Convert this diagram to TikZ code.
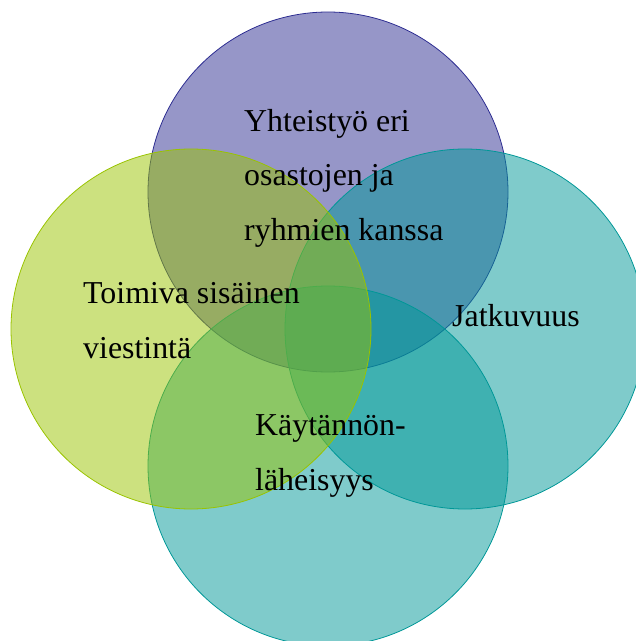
\documentclass[tikz,border=0pt]{standalone}
\usepackage{fontspec}
\setmainfont{Liberation Serif}
\definecolor{TopClr}{rgb}{0.176,0.176,0.569}
\definecolor{SideClr}{rgb}{0,0.592,0.592}
\definecolor{LeftClr}{rgb}{0.6,0.765,0}
\tikzset{
  venn/.style={line width=0.8pt,fill opacity=0.5},
  lbl/.style={anchor=base west,align=left,inner sep=0pt,
    font=\fontsize{32}{54.5}\selectfont}
}

\begin{document}
\begin{tikzpicture}[x=1bp,y=-1bp]
\useasboundingbox (0,0) rectangle (636,641);
\clip (0,0) rectangle (636,641);

\coordinate (T) at (328,192);
\coordinate (R) at (465,329);
\coordinate (B) at (328,466);
\coordinate (L) at (191,329);

% circles, in the order of the texts
\filldraw[venn,draw=TopClr,fill=TopClr] (T) circle (180);
\filldraw[venn,draw=SideClr,fill=SideClr] (R) circle (180);
\filldraw[venn,draw=SideClr,fill=SideClr] (B) circle (180);
\filldraw[venn,draw=LeftClr,fill=LeftClr] (L) circle (180);

% base = last line of each label
\node[lbl] (yhteis) at (244,240) {Yhteistyö eri\\osastojen ja\\ryhmien kanssa};
\node[lbl] (jatkuv) at (452,326) {Jatkuvuus};
\node[lbl] (kaytan) at (255,490) {Käytännön-\\läheisyys};
\node[lbl] (toimiva) at (83,358) {Toimiva sisäinen\\viestintä};

\end{tikzpicture}
\end{document}
